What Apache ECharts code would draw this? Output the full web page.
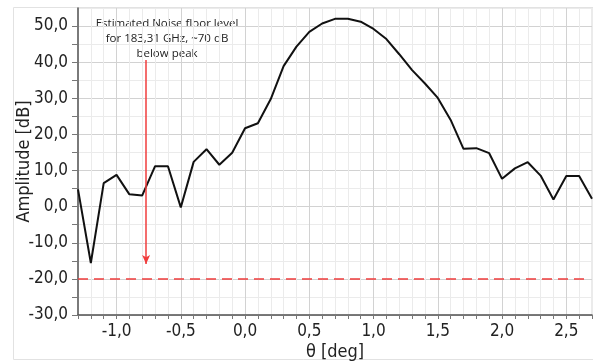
<!DOCTYPE html>
<html>
<head>
<meta charset="utf-8">
<script src="https://cdn.jsdelivr.net/npm/echarts@6/dist/echarts.min.js"></script>
<style>
  html, body { margin: 0; padding: 0; background: #fff; }
  #chart { width: 593px; height: 362px; }
</style>
</head>
<body>
<div id="chart"></div>
<script>
// angle in degrees, amplitude in dB
const theta = [-1.3, -1.2, -1.1, -1.0, -0.9, -0.8, -0.7, -0.6, -0.5, -0.4, -0.3, -0.2, -0.1,
  0.0, 0.1, 0.2, 0.3, 0.4, 0.5, 0.6, 0.7, 0.8, 0.9, 1.0, 1.1, 1.2, 1.3, 1.4, 1.5,
  1.6, 1.7, 1.8, 1.9, 2.0, 2.1, 2.2, 2.3, 2.4, 2.5, 2.6, 2.7];
const amplitude = [4.8, -15.6, 6.5, 8.8, 3.4, 3.1, 11.2, 11.2, -0.2, 12.4, 15.9, 11.6, 14.9,
  21.7, 23.1, 29.8, 38.9, 44.3, 48.4, 50.7, 52.0, 52.0, 51.2, 49.2, 46.4, 42.2, 37.8, 34.1, 30.1,
  24.0, 16.0, 16.2, 14.8, 7.7, 10.6, 12.3, 8.6, 2.0, 8.5, 8.5, 2.2];

// noise floor line and the arrow pointing at it
const noiseFloor = -20;
const noiseFloorRange = [-1.3, 2.65];
const arrowX = -0.77;
const arrowRange = [40.6, -15.9];
const noteLines = ['Estimated Noise floor level', 'for 183,31 GHz, ~70 dB', 'below peak'];

const fmt = v => v.toFixed(1).replace('.', ',').replace('-0,0', '0,0');
const axisFont = '"Liberation Sans Narrow", "DejaVu Sans Condensed", sans-serif';

var chart = echarts.init(document.getElementById('chart'));

const option = {
  backgroundColor: '#fff',
  animation: false,
  graphic: [
    {
      type: 'rect',
      shape: { x: 13.5, y: 7.5, width: 590, height: 352 },
      style: { fill: 'none', stroke: '#e2e2e2', lineWidth: 1 },
      silent: true
    },
    {
      type: 'text',
      x: 167,
      y: 16,
      style: {
        text: noteLines.join('\n'),
        fill: '#222',
        font: '11.5px "Open Sans", sans-serif',
        align: 'center',
        verticalAlign: 'top',
        lineHeight: 15
      }
    }
  ],
  grid: {
    left: 78,
    right: 1,
    top: 8,
    bottom: 47,
    outerBoundsMode: 'none',
    show: true,
    borderColor: '#d6d6d6',
    borderWidth: 1
  },
  xAxis: {
    type: 'value',
    min: -1.3,
    max: 2.7,
    interval: 0.1,
    name: 'θ [deg]',
    nameLocation: 'middle',
    nameGap: 28,
    nameMoveOverlap: false,
    nameTextStyle: { color: '#222', fontSize: 18, fontFamily: axisFont },
    axisLine: { show: true, onZero: false, lineStyle: { color: '#555', width: 1.5 } },
    axisTick: { show: true, length: 4, lineStyle: { color: '#777' } },
    axisLabel: {
      color: '#222',
      fontSize: 17,
      fontFamily: axisFont,
      margin: 8,
      formatter: v => (Math.abs(v * 2 - Math.round(v * 2)) < 1e-6 ? fmt(v) : '')
    },
    splitLine: {
      show: true,
      lineStyle: { color: ['#ebebeb', '#ebebeb', '#ebebeb', '#d2d2d2', '#ebebeb'], width: 1 }
    }
  },
  yAxis: {
    type: 'value',
    min: -30,
    max: 55,
    interval: 5,
    name: 'Amplitude [dB]',
    nameLocation: 'middle',
    nameGap: 45,
    nameMoveOverlap: false,
    nameTextStyle: { color: '#222', fontSize: 18, fontFamily: axisFont },
    axisLine: { show: true, onZero: false, lineStyle: { color: '#555', width: 1.5 } },
    axisTick: { show: true, length: 6, lineStyle: { color: '#777' } },
    axisLabel: {
      color: '#222',
      fontSize: 17,
      fontFamily: axisFont,
      margin: 10,
      showMaxLabel: false,
      formatter: v => (v % 10 === 0 ? fmt(v) : '')
    },
    splitLine: {
      show: true,
      lineStyle: { color: ['#d2d2d2', '#ebebeb'], width: 1 }
    }
  },
  series: [
    {
      type: 'line',
      data: theta.map((t, i) => [t, amplitude[i]]),
      symbol: 'none',
      lineStyle: { color: '#111', width: 2 },
      markLine: {
        silent: true,
        symbol: 'none',
        label: { show: false },
        data: [
          [
            { coord: [noiseFloorRange[0], noiseFloor] },
            { coord: [noiseFloorRange[1], noiseFloor] }
          ],
          [
            { coord: [arrowX, arrowRange[0]], symbol: 'none' },
            { coord: [arrowX, arrowRange[1]], symbol: 'arrow', symbolSize: [6, 9] }
          ]
        ]
      }
    }
  ]
};

// style the two marker lines separately
option.series[0].markLine.data[0][0].lineStyle = { color: '#f03c3c', width: 1.5, type: [10, 6] };
option.series[0].markLine.data[1][0].lineStyle = { color: '#f03c3c', width: 1.5, type: 'solid' };

chart.setOption(option);
window.addEventListener('resize', () => chart.resize());
</script>
</body>
</html>
